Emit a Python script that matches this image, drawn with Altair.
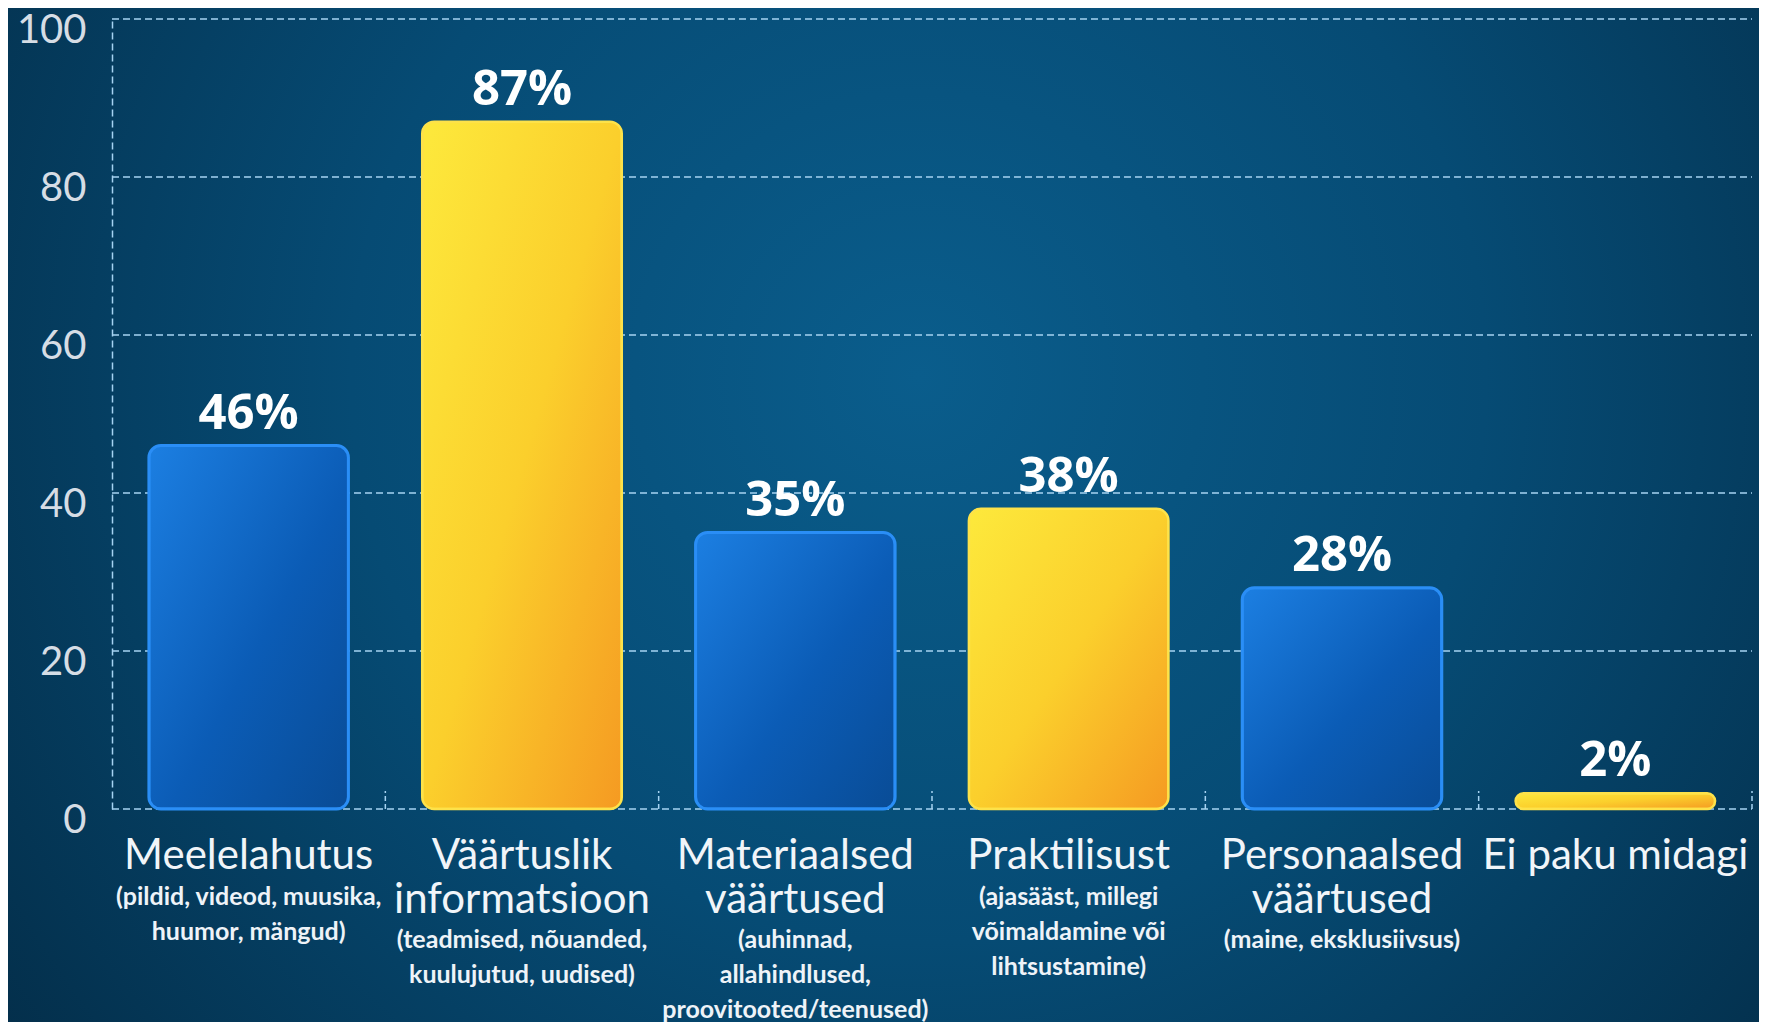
import altair as alt
import pandas as pd

# ---- data ----
categories = [
    "Meelelahutus",
    "Väärtuslik\ninformatsioon",
    "Materiaalsed\nväärtused",
    "Praktilisust",
    "Personaalsed\nväärtused",
    "Ei paku midagi",
]
subtitles = [
    "(pildid, videod, muusika,\nhuumor, mängud)",
    "(teadmised, nõuanded,\nkuulujutud, uudised)",
    "(auhinnad,\nallahindlused,\nproovitooted/teenused)",
    "(ajasääst, millegi\nvõimaldamine või\nlihtsustamine)",
    "(maine, eksklusiivsus)",
    "",
]
values = [46, 87, 35, 38, 28, 2]
groups = ["blue", "yellow", "blue", "yellow", "blue", "yellow"]
y_ticks = [0, 20, 40, 60, 80, 100]

df = pd.DataFrame({
    "cat": categories,
    "sub": subtitles,
    "value": values,
    "group": groups,
})
df["label"] = df["value"].astype(str) + "%"
grid_df = pd.DataFrame({"tick": y_ticks})

W, H = 1640, 790
PAD_B = 215
FONT = "Lato"
GRID_COLOR = "#a6d3f2"

BG = {
    "gradient": "radial",
    "x1": 0.52, "y1": 0.42, "r1": 0,
    "x2": 0.52, "y2": 0.42, "r2": 0.72,
    "stops": [
        {"offset": 0, "color": "#0a5d8c"},
        {"offset": 0.45, "color": "#064b74"},
        {"offset": 1, "color": "#032841"},
    ],
}
BLUE = {
    "gradient": "linear", "x1": 0, "y1": 0, "x2": 1, "y2": 1,
    "stops": [
        {"offset": 0, "color": "#1c7fe2"},
        {"offset": 0.55, "color": "#0b5cb6"},
        {"offset": 1, "color": "#094c96"},
    ],
}
YELLOW = {
    "gradient": "linear", "x1": 0, "y1": 0, "x2": 1, "y2": 1,
    "stops": [
        {"offset": 0, "color": "#fde93c"},
        {"offset": 0.5, "color": "#fbcf2c"},
        {"offset": 1, "color": "#f59a22"},
    ],
}

x_scale = alt.Scale(domain=categories, paddingInner=0, paddingOuter=0)
y_scale = alt.Scale(domain=[0, 100], nice=False)

x_axis = alt.Axis(
    title=None, ticks=False, tickSize=0, domain=False, grid=False,
    labelExpr="split(datum.label, '\\n')",
    labelFont=FONT, labelFontSize=42, labelColor="#f1f5f9",
    labelPadding=59, labelBaseline="alphabetic", labelLineHeight=44,
    labelLimit=1000, labelAngle=0, labelOverlap=False, labelFlush=False,
    zindex=1,
)
y_axis = alt.Axis(
    title=None, values=y_ticks, ticks=False, tickSize=0, grid=False,
    domain=True, domainColor=GRID_COLOR, domainDash=[7, 4], domainWidth=1.5,
    labelFont=FONT, labelFontSize=40, labelColor="#d6dde5",
    labelPadding=26, labelOffset=11, zindex=1,
)

X = alt.X("cat:N", scale=x_scale, axis=x_axis, sort=categories)
Y = alt.Y("value:Q", scale=y_scale, axis=y_axis)

bg = alt.Chart(alt.Data(values=[{"k": 1}])).mark_rect(fill=BG).encode(
    x=alt.value(-104), x2=alt.value(W + 7), y=alt.value(-11), y2=alt.value(H + PAD_B)
)

grid = alt.Chart(grid_df).mark_rule(
    color=GRID_COLOR, strokeDash=[7, 4], strokeWidth=1.5
).encode(
    y=alt.Y("tick:Q", scale=y_scale, axis=y_axis),
    x=alt.value(0), x2=alt.value(W),
)

ticks = alt.Chart(df).mark_rule(
    color=GRID_COLOR, strokeDash=[5, 3], strokeWidth=1.5
).encode(
    x=alt.X("cat:N", scale=x_scale, axis=x_axis, sort=categories, bandPosition=1),
    y=alt.value(H), y2=alt.value(H - 18),
)

bars_blue = alt.Chart(df).transform_filter("datum.group == 'blue'").mark_bar(
    fill=BLUE, stroke="#2a8ef6", strokeWidth=3, cornerRadius=12,
    width=alt.RelativeBandSize(0.73),
).encode(x=X, y=Y)

bars_yellow = alt.Chart(df).transform_filter("datum.group == 'yellow'").mark_bar(
    fill=YELLOW, stroke="#fde24a", strokeWidth=2.5, cornerRadius=12,
    width=alt.RelativeBandSize(0.73),
).encode(x=X, y=Y)

value_text = alt.Chart(df).mark_text(
    font="Open Sans", fontWeight="bold", fontSize=49, color="#ffffff",
    baseline="alphabetic", dy=-17,
).encode(x=X, y=Y, text="label:N")

sub_base = alt.Chart(df).transform_calculate(
    nl="length(split(datum.cat, '\\n'))"
).transform_filter("datum.sub != ''")

sub_style = dict(
    font=FONT, fontWeight="bold", fontSize=25, color="#eef3f8",
    baseline="alphabetic", lineBreak="\n", lineHeight=35,
)

sub_one = sub_base.transform_filter("datum.nl == 1").mark_text(**sub_style).encode(
    x=X, y=alt.value(H + 96), text="sub:N"
)
sub_two = sub_base.transform_filter("datum.nl == 2").mark_text(**sub_style).encode(
    x=X, y=alt.value(H + 139), text="sub:N"
)

chart = alt.layer(
    bg, grid, bars_blue, bars_yellow, ticks, value_text, sub_one, sub_two
).properties(
    width=W, height=H,
    autosize=alt.AutoSizeParams(type="none"),
    padding={"left": 104, "top": 11, "right": 7, "bottom": PAD_B},
).configure_view(stroke=None).configure(background="#053a5a")

chart.save("out.html", embed_options={"renderer": "svg", "actions": False})
